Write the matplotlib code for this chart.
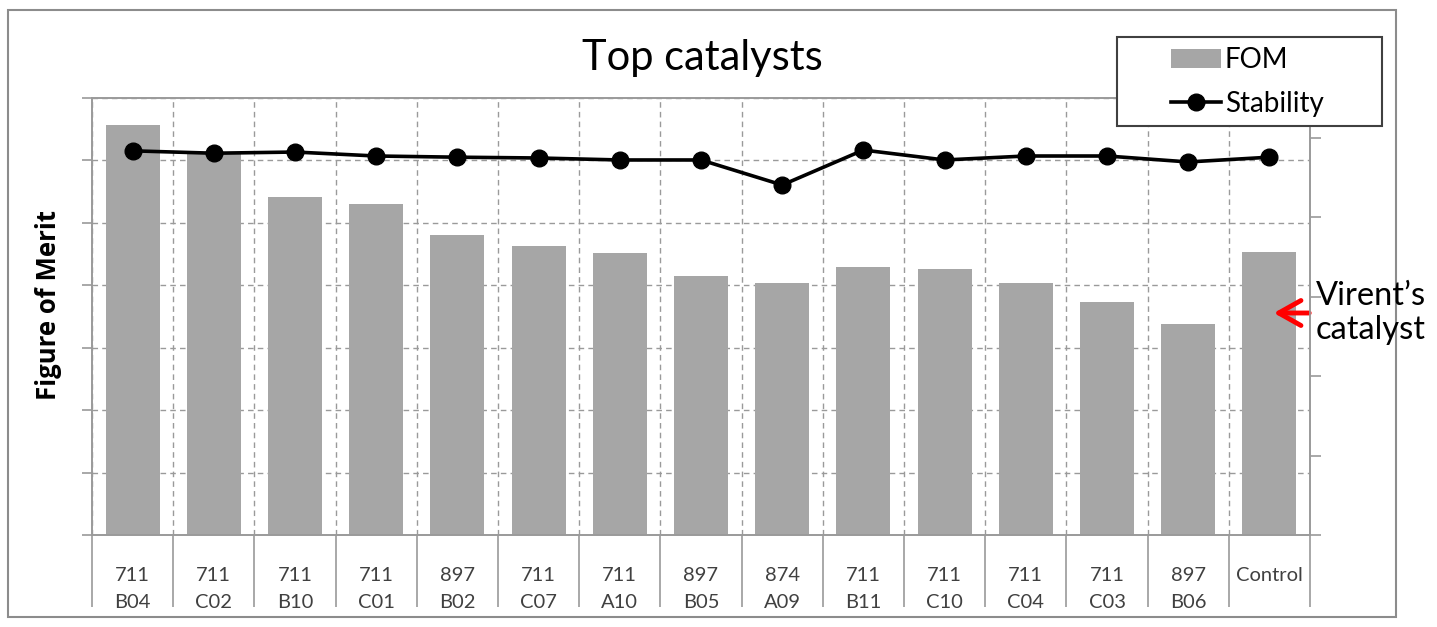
import matplotlib.pyplot as plt
from matplotlib.patches import Rectangle

# catalyst names (two-line tick labels)
catalysts = ['711\nB04', '711\nC02', '711\nB10', '711\nC01', '897\nB02', '711\nC07', '711\nA10',
             '897\nB05', '874\nA09', '711\nB11', '711\nC10', '711\nC04', '711\nC03', '897\nB06',
             'Control']
# figure of merit (left axis, arbitrary units)
fom = [6.57, 6.12, 5.41, 5.30, 4.81, 4.63, 4.52, 4.15, 4.04, 4.29, 4.26, 4.04, 3.73, 3.38, 4.53]
# stability (right axis, arbitrary units)
stability = [96.7, 96.1, 96.4, 95.4, 95.1, 94.9, 94.4, 94.4, 88.1, 96.9, 94.4, 95.4, 95.4, 93.9, 95.1]

plt.rcParams['font.family'] = ['Lato', 'DejaVu Sans']

W, H = 1437, 627
fig = plt.figure(figsize=(W / 100, H / 100), dpi=100)

# outer frame round the whole chart
fig.patches.append(Rectangle((8 / W, 1 - 617 / H), (1396 - 8) / W, (617 - 10) / H,
                             transform=fig.transFigure, fill=False,
                             edgecolor='#8c8c8c', linewidth=1.5, zorder=0))

ax = fig.add_axes([92 / W, 1 - 535 / H, (1310 - 92) / W, (535 - 98) / H])
ax2 = ax.twinx()

x = list(range(len(catalysts)))
bars = ax.bar(x, fom, width=0.665, color='#a6a6a6', label='FOM', zorder=2)
line, = ax2.plot(x, stability, color='black', linewidth=2.6, marker='o',
                 markersize=12, label='Stability')

grid_col = '#9a9a9a'
ax.set_xlim(-0.5, len(catalysts) - 0.5)
ax.set_ylim(0, 7)
ax.set_yticks(range(8))
ax.set_yticklabels([])
ax.set_xticks(x)
ax.set_xticklabels(catalysts, fontsize=14.5, color='#404040', linespacing=1.7)
ax.set_xticks([i - 0.5 for i in range(len(catalysts) + 1)], minor=True)
ax.tick_params(axis='x', which='major', length=0, pad=23)
ax.tick_params(axis='x', which='minor', length=52, color=grid_col, width=1.2)
ax.tick_params(axis='y', length=7, color=grid_col, width=1.2)
ax.grid(axis='y', which='major', linestyle=(0, (4, 3)), color=grid_col, linewidth=1)
ax.grid(axis='x', which='minor', linestyle=(0, (4, 3)), color=grid_col, linewidth=1)
ax.set_axisbelow(True)

ax2.set_ylim(0, 110)
ax2.set_yticks(range(0, 101, 20))
ax2.set_yticklabels([])
ax2.tick_params(axis='y', length=8, color=grid_col, width=1.2)

for a in (ax, ax2):
    for s in a.spines.values():
        s.set_color(grid_col)
        s.set_linewidth(1.2)

ax.set_ylabel('Figure of Merit', fontsize=18.5, fontweight='bold', color='black',
              family=['Open Sans', 'DejaVu Sans'])
ax.yaxis.set_label_coords(-0.025, 0.526)

fig.text(702 / W, 1 - 58 / H, 'Top catalysts', fontsize=30, ha='center', va='center')

# legend box drawn separately so it can be wider than its entries
fig.patches.append(Rectangle((1117 / W, 1 - 126 / H), (1382 - 1117) / W, (126 - 37) / H,
                             transform=fig.transFigure, facecolor='white',
                             edgecolor='#404040', linewidth=1.5, zorder=3))
leg = fig.legend(handles=[bars, line], loc='center',
                 bbox_to_anchor=(1247 / W, 1 - 82 / H), fontsize=20,
                 frameon=False, handlelength=1.8, handletextpad=0.15,
                 labelspacing=0.65, borderaxespad=0, borderpad=0)
leg.set_zorder(4)

# annotation for the control sample
fig.text(1316 / W, 1 - 313 / H, 'Virent\u2019s\ncatalyst', fontsize=23.5,
         ha='left', va='center', linespacing=1.2)
ax.annotate('', xy=(1271 / W, 1 - 313 / H), xycoords='figure fraction',
            xytext=(1312 / W, 1 - 313 / H), textcoords='figure fraction',
            arrowprops=dict(arrowstyle='->,head_length=0.8,head_width=0.45',
                            color='red', lw=3.5, mutation_scale=20))

fig.savefig('out.png', dpi=100)
